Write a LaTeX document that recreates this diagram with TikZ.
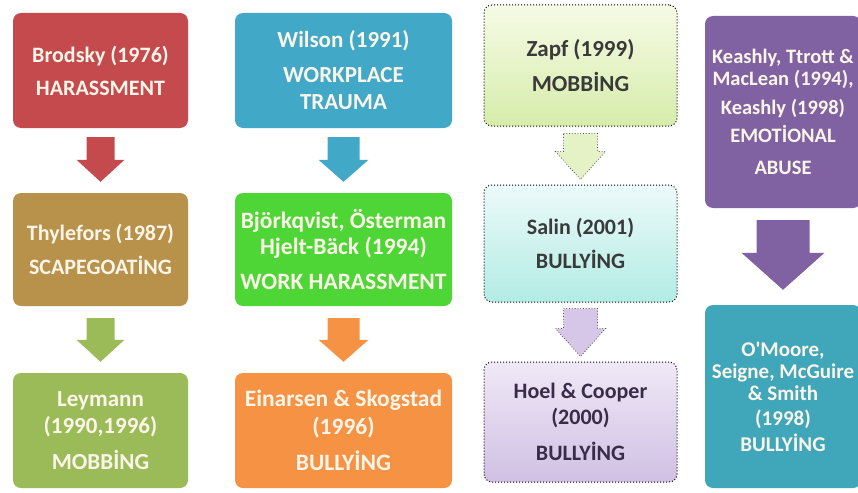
\documentclass[tikz,border=0pt]{standalone}
\usepackage{fontspec}
\setmainfont{Carlito}
\usetikzlibrary{calc}
\definecolor{cRed}{RGB}{196,74,77}
\definecolor{cTan}{RGB}{184,146,74}
\definecolor{cOlive}{RGB}{155,187,89}
\definecolor{cBlue}{RGB}{66,168,200}
\definecolor{cGreen}{RGB}{78,214,54}
\definecolor{cOrange}{RGB}{246,146,68}
\definecolor{cPurple}{RGB}{128,98,162}
\definecolor{cTeal}{RGB}{64,166,186}
\definecolor{cTxt}{RGB}{250,245,232}
\definecolor{cDark}{RGB}{58,58,58}
\definecolor{cDarkP}{RGB}{56,44,72}
\definecolor{zTop}{RGB}{246,251,230}
\definecolor{zBot}{RGB}{214,236,170}
\definecolor{sTop}{RGB}{236,250,250}
\definecolor{sBot}{RGB}{178,236,228}
\definecolor{hTop}{RGB}{240,232,246}
\definecolor{hBot}{RGB}{208,192,228}
\definecolor{aLight}{RGB}{228,242,198}
\definecolor{aLav}{RGB}{214,198,232}
\newcommand\blockarrow[8]{%
  \path[#1] let \p1=(#2.south), \p2=(#3.north) in
    (\x1-#4,\y1-#7) -- (\x1+#4,\y1-#7) -- (\x1+#4,\y2+#8+#6) -- (\x1+#5,\y2+#8+#6)
    -- (\x1,\y2+#8) -- (\x1-#5,\y2+#8+#6) -- (\x1-#4,\y2+#8+#6) -- cycle;}
\tikzset{
  box/.style={rectangle, rounded corners=8pt, inner sep=0pt, align=center,
    font=\bfseries\fontsize{22}{21}\selectfont, text=cTxt},
  fs/.style={font=\bfseries\fontsize{#1}{21}\selectfont},
  solidbox/.style={box, fill=#1},
  dotbox/.style={box, draw=black, dotted, line width=1pt, text=cDark},
  solidarrow/.style={fill=#1},
  dotarrow/.style={fill=#1, draw=black!70, dotted, line width=0.8pt},
}
\begin{document}
\begin{tikzpicture}[x=1pt,y=-1pt]
\useasboundingbox (0,0) rectangle (858,492);
% column 1
\node[solidbox=cRed, fs=22, minimum width=175pt, minimum height=115pt] (brodsky) at (100.5,70.5)
  {Brodsky (1976)\\[12pt]HARASSMENT};
\node[solidbox=cTan, fs=22, minimum width=175pt, minimum height=113pt] (thylefors) at (100.5,249.5)
  {Thylefors (1987)\\[11pt]SCAPEGOAT\.{I}NG};
\node[solidbox=cOlive, fs=23, minimum width=175pt, minimum height=115pt] (leymann) at (100.5,430.5)
  {Leymann\\[6pt](1990,1996)\\[12pt]MOBB\.{I}NG};
% column 2
\node[solidbox=cBlue, fs=23, minimum width=217pt, minimum height=115pt] (wilson) at (343.5,70.5)
  {Wilson (1991)\\[14pt]WORKPLACE\\[6pt]TRAUMA};
\node[solidbox=cGreen, fs=23.5, minimum width=217pt, minimum height=113pt] (bjork) at (343.5,249.5)
  {Björkqvist, Österman\\[4pt]Hjelt-Bäck (1994)\\[14pt]WORK HARASSMENT};
\node[solidbox=cOrange, fs=23.5, minimum width=217pt, minimum height=115pt] (einarsen) at (343.5,430.5)
  {Einarsen \& Skogstad\\[6pt](1996)\\[12pt]BULLY\.{I}NG};
% column 3
\node[dotbox, fs=23, top color=zTop, bottom color=zBot, minimum width=193pt, minimum height=121pt] (zapf) at (580.5,65.5)
  {Zapf (1999)\\[11pt]MOBB\.{I}NG};
\node[dotbox, fs=22, top color=sTop, bottom color=sBot, minimum width=193pt, minimum height=117pt] (salin) at (580.5,243.5)
  {Salin (2001)\\[11pt]BULLY\.{I}NG};
\node[dotbox, fs=22, top color=hTop, bottom color=hBot, text=cDarkP, minimum width=193pt, minimum height=120pt] (hoel) at (580.5,422)
  {Hoel \& Cooper\\[5pt](2000)\\[13pt]BULLY\.{I}NG};
% column 4
\node[solidbox=cPurple, fs=20.5, minimum width=156pt, minimum height=192pt] (keashly) at (783,112)
  {Keashly, Ttrott \&\\[1pt]MacLean (1994),\\[8pt]Keashly (1998)\\[7pt]EMOT\.{I}ONAL\\[11pt]ABUSE};
\node[solidbox=cTeal, fs=21, minimum width=156pt, minimum height=183pt] (omoore) at (783,396.5)
  {O\textquotesingle Moore,\\[1pt]Seigne, McGuire\\[1pt]\& Smith\\[4pt](1998)\\[5pt]BULLY\.{I}NG};
% arrows
\blockarrow{solidarrow=cRed}{brodsky}{thylefors}{14pt}{24pt}{22pt}{9pt}{11pt}
\blockarrow{solidarrow=cOlive}{thylefors}{leymann}{14pt}{24pt}{22pt}{12pt}{11pt}
\blockarrow{solidarrow=cBlue}{wilson}{bjork}{16pt}{25pt}{22pt}{9pt}{11pt}
\blockarrow{solidarrow=cOrange}{bjork}{einarsen}{16pt}{25pt}{22pt}{12pt}{11pt}
\blockarrow{dotarrow=aLight}{zapf}{salin}{17pt}{25pt}{28pt}{7pt}{5pt}
\blockarrow{dotarrow=aLav}{salin}{hoel}{17pt}{25pt}{28pt}{6pt}{5pt}
\blockarrow{solidarrow=cPurple}{keashly}{omoore}{26.5pt}{41.5pt}{37pt}{12pt}{15pt}
\end{tikzpicture}
\end{document}
